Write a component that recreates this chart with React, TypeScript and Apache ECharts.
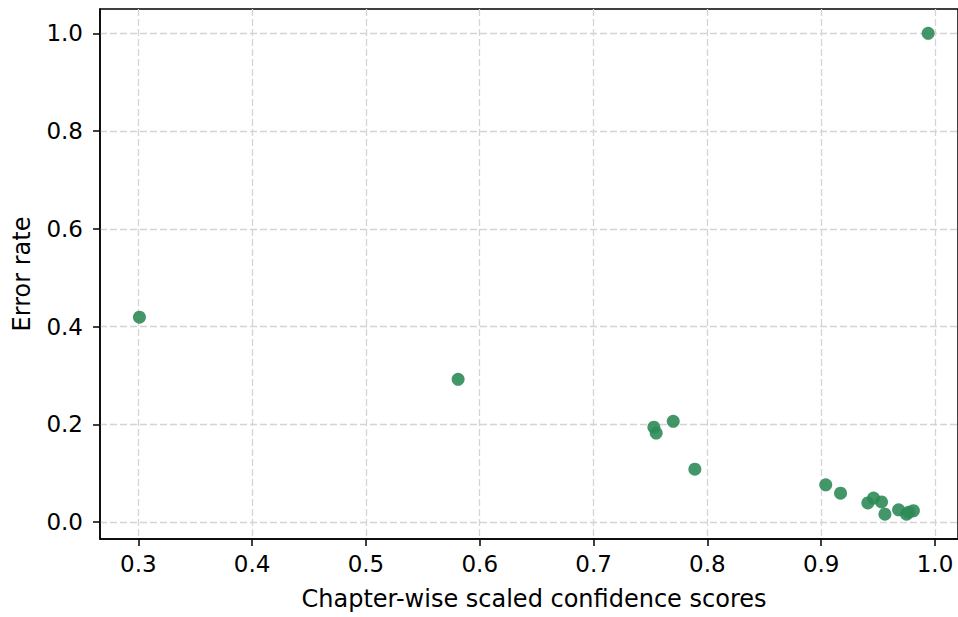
import React, { useEffect, useRef } from "react";
import * as echarts from "echarts";

const confidence = [0.301, 0.581, 0.753, 0.755, 0.770, 0.789, 0.904, 0.917, 0.941, 0.946, 0.953, 0.956, 0.968, 0.975, 0.977, 0.981, 0.994];
const errorRate = [0.419, 0.292, 0.194, 0.182, 0.206, 0.108, 0.076, 0.059, 0.039, 0.049, 0.041, 0.016, 0.025, 0.016, 0.020, 0.023, 1.0];
const xTicks = [0.3, 0.4, 0.5, 0.6, 0.7, 0.8, 0.9, 1.0];
const yTicks = [0.0, 0.2, 0.4, 0.6, 0.8, 1.0];

export default function App() {
  const ref = useRef<HTMLDivElement>(null);
  useEffect(() => {
    const chart = echarts.init(ref.current!, null, { renderer: "svg" });
    const font = "DejaVu Sans";
    const axisCommon = {
      axisLine: { show: true, onZero: false, lineStyle: { color: "#000", width: 1.5 } },
      axisTick: { show: true, inside: false, length: 7, lineStyle: { color: "#000", width: 1.5 } },
      splitLine: { show: true, lineStyle: { color: "#d4d4d4", type: [7, 3], width: 1.3 } },
      nameTextStyle: { color: "#000", fontSize: 24, fontFamily: font },
      nameLocation: "middle" as const,
    };
    chart.setOption({
      animation: false,
      backgroundColor: "#fff",
      grid: { left: 100, right: 0, top: 9, bottom: 78, show: true, borderColor: "#000", borderWidth: 1.5, backgroundColor: "transparent" },
      xAxis: {
        ...axisCommon,
        type: "value",
        min: 0.26635,
        max: 1.0202,
        name: "Chapter-wise scaled confidence scores",
        nameGap: 48,
        nameTextStyle: { ...axisCommon.nameTextStyle, padding: [0, 0, 0, 10] },
        axisTick: { ...axisCommon.axisTick, customValues: xTicks },
        splitLine: { ...axisCommon.splitLine, customValues: xTicks } as any,
        axisLabel: { customValues: xTicks, color: "#000", fontSize: 23, fontFamily: font, margin: 13, formatter: (v: number) => v.toFixed(1) },
      },
      yAxis: {
        ...axisCommon,
        type: "value",
        min: -0.0348,
        max: 1.0497,
        name: "Error rate",
        nameGap: 66,
        axisTick: { ...axisCommon.axisTick, customValues: yTicks },
        splitLine: { ...axisCommon.splitLine, customValues: yTicks } as any,
        axisLabel: { customValues: yTicks, color: "#000", fontSize: 23, fontFamily: font, margin: 17, formatter: (v: number) => v.toFixed(1) },
      },
      series: [
        {
          type: "scatter",
          data: confidence.map((c, i) => [c, errorRate[i]]),
          symbolSize: 13,
          itemStyle: { color: "#2e8b57", opacity: 0.9 },
        },
      ],
    });
    return () => chart.dispose();
  }, []);
  return <div ref={ref} style={{ width: 958, height: 617, position: "absolute", left: 0, top: 0 }} />;
}
